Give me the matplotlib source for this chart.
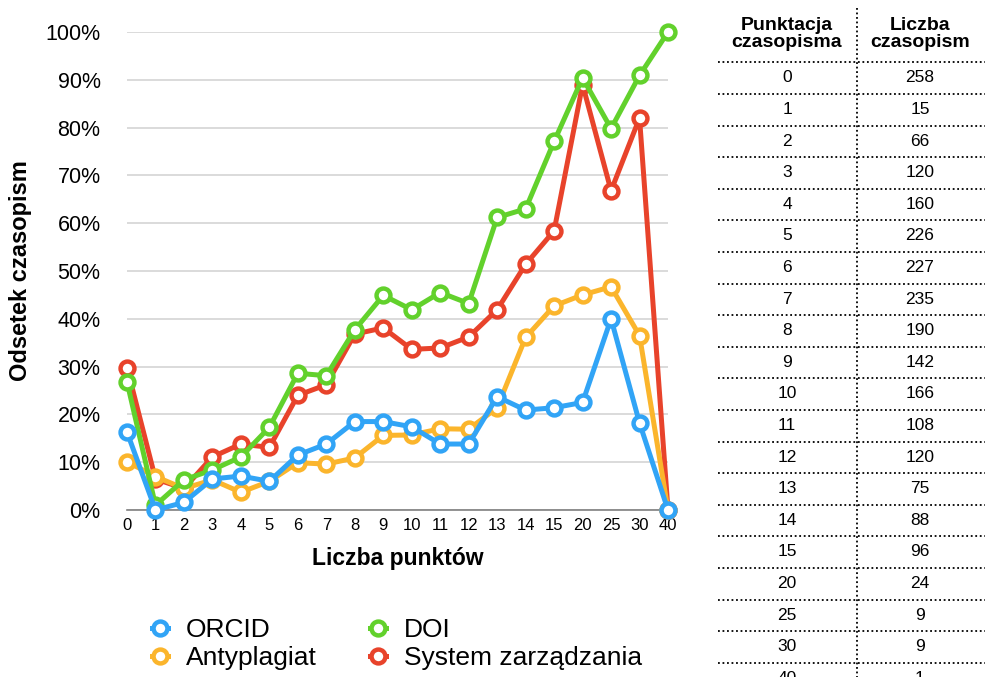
import matplotlib.pyplot as plt
from matplotlib.lines import Line2D

plt.rcParams['font.family'] = ['Liberation Sans', 'DejaVu Sans']

points = ["0", "1", "2", "3", "4", "5", "6", "7", "8", "9", "10",
          "11", "12", "13", "14", "15", "20", "25", "30", "40"]

orcid = [16.3, 0, 1.6, 6.5, 7.1, 6.0, 11.5, 13.8, 18.5, 18.5, 17.4,
         13.8, 13.8, 23.7, 20.9, 21.4, 22.5, 40.0, 18.2, 0]
antyplagiat = [10.1, 7.0, 4.5, 6.3, 3.7, 6.0, 9.9, 9.6, 10.9, 15.6, 15.7,
               17.0, 16.9, 21.4, 36.1, 42.7, 45.0, 46.7, 36.5, 0]
doi = [26.8, 1.0, 6.3, 8.4, 11.1, 17.3, 28.6, 28.1, 37.7, 44.9, 41.9,
       45.5, 43.2, 61.2, 63.0, 77.1, 90.4, 79.8, 90.9, 100]
system = [29.8, 6.5, 4.5, 11.1, 13.8, 13.1, 24.0, 26.2, 36.8, 38.1, 33.6,
          33.9, 36.2, 41.9, 51.4, 58.4, 89.0, 66.8, 82.0, 0]

counts = [258, 15, 66, 120, 160, 226, 227, 235, 190, 142, 166,
          108, 120, 75, 88, 96, 24, 9, 9, 1]

series = [
    ("System zarządzania", system, "#e8432b"),
    ("Antyplagiat", antyplagiat, "#fbb52c"),
    ("DOI", doi, "#62d12c"),
    ("ORCID", orcid, "#31a4f6"),
]

W, H = 985, 677
fig = plt.figure(figsize=(W / 100, H / 100), dpi=100)
ax = fig.add_axes([127 / W, 1 - 510 / H, (668 - 127) / W, (510 - 32) / H])

x = list(range(len(points)))
lines = {}
for name, vals, col in series:
    ln, = ax.plot(x, vals, color=col, lw=3.6, marker='o', markersize=10,
                  markerfacecolor='white', markeredgecolor=col,
                  markeredgewidth=3.2, clip_on=False, zorder=3)
    lines[name] = ln

ax.set_xlim(0, len(points) - 1)
ax.set_ylim(0, 100)
ax.set_xticks(x)
ax.set_xticklabels(points, fontsize=12)
ax.set_yticks(range(0, 101, 10))
ax.set_yticklabels([f"{v}%" for v in range(0, 101, 10)], fontsize=15.5)
ax.tick_params(length=0)
ax.tick_params(axis='x', pad=6)
ax.tick_params(axis='y', pad=19)
ax.grid(axis='y', color='#d4d4d4', lw=1.2)
ax.set_axisbelow(True)
for s in ['top', 'right', 'left']:
    ax.spines[s].set_visible(False)
ax.spines['bottom'].set_color('#808080')
ax.spines['bottom'].set_linewidth(1.2)

ax.set_xlabel("Liczba punktów", fontsize=16.5, fontweight='bold', labelpad=10)
ax.set_ylabel("Odsetek czasopism", fontsize=17, fontweight='bold', labelpad=10)

handles = [lines["ORCID"], lines["Antyplagiat"], lines["DOI"], lines["System zarządzania"]]
labels = ["ORCID", "Antyplagiat", "DOI", "System zarządzania"]
fig.legend(handles, labels, ncol=2, loc='center left',
           bbox_to_anchor=(128 / W, 1 - 644 / H), frameon=False,
           fontsize=19, handlelength=0.6, handletextpad=0.7,
           columnspacing=2.0, labelspacing=0.15)

# table on the right
x0, x1, xmid = 718 / W, 1.0, 857 / W
c1, c2 = 787 / W, 920 / W
dots = (0, (1, 1.5))
fig.add_artist(Line2D([xmid, xmid], [1 - 8 / H, 0], transform=fig.transFigure,
                      color='black', lw=1.3, ls=dots))
fig.text(c1, 1 - 34 / H, "Punktacja\nczasopisma", ha='center', va='center',
         fontsize=14, fontweight='bold', linespacing=1.0)
fig.text(c2, 1 - 34 / H, "Liczba\nczasopism", ha='center', va='center',
         fontsize=14, fontweight='bold', linespacing=1.0)
fig.add_artist(Line2D([x0, x1], [1 - 62 / H] * 2, transform=fig.transFigure,
                      color='black', lw=1.3, ls=dots))
step = 31.6
for i, (p, c) in enumerate(zip(points, counts)):
    yt = 78 + step * i
    fig.text(c1, 1 - yt / H, p, ha='center', va='center', fontsize=12.5)
    fig.text(c2, 1 - yt / H, str(c), ha='center', va='center', fontsize=12.5)
    yl = 94 + step * i
    fig.add_artist(Line2D([x0, x1], [1 - yl / H] * 2, transform=fig.transFigure,
                          color='black', lw=1.3, ls=dots))

fig.savefig("out.png", dpi=100)
